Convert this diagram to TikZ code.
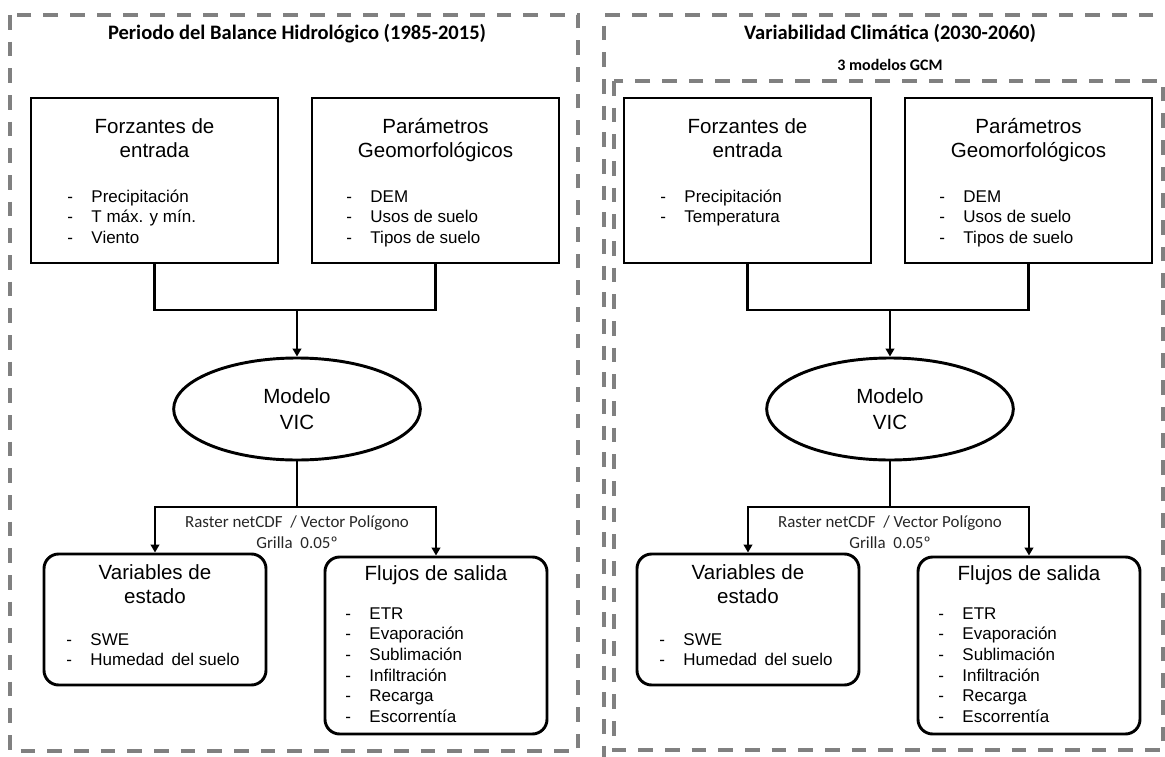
\documentclass[tikz,border=0pt]{standalone}
\usepackage{fontspec}
\setmainfont{Liberation Sans}
\newfontfamily\calib{Carlito}
\usetikzlibrary{shapes.geometric,arrows.meta}

\definecolor{framegray}{HTML}{808080}
% list entry: a dash, then the entry text at a fixed indent
\newcommand{\dashitem}[1]{\makebox[18pt][l]{-}#1}

% one complete VIC workflow column; #1 name prefix, #2 horizontal offset, #3 forcing list
\newcommand{\vicpanel}[3]{%
\begin{scope}[shift={(#2,0)}]
  % input boxes
  \node[inbox] (#1in) at (154.5,180.5) {};
  \node[inbox] (#1geo) at (435.5,180.5) {};
  \node[head] (#1inT) at (154.5,133) {\begin{tabular}[t]{@{}c@{}}Forzantes de\\entrada\end{tabular}};
  \node[head] (#1geoT) at (435.5,133) {\begin{tabular}[t]{@{}c@{}}Parámetros\\Geomorfológicos\end{tabular}};
  \node[list] (#1inL) at (67.2,202) {\begin{tabular}[t]{@{}l@{}}#3\end{tabular}};
  \node[list] (#1geoL) at (346.2,202) {\begin{tabular}[t]{@{}l@{}}\dashitem{DEM}\\\dashitem{Usos de suelo}\\\dashitem{Tipos de suelo}\end{tabular}};
  % model
  \node[vic] (#1vic) at (297,409) {Modelo\\VIC};
  \coordinate (#1j) at (297,310);
  \draw[link] (#1in.south) |- (#1j) -| (#1geo.south);
  \draw[arr] (#1j) -- (#1vic.north);
  % outputs
  \node[outbox, minimum height=98.25pt] (#1st) at (155,619.5) {};
  \node[outbox, minimum height=132.75pt] (#1fl) at (436,645.5) {};
  \coordinate (#1s) at (297,507);
  \draw[link] (#1vic.south) -- (#1s);
  \draw[arr] (#1s) -| (#1st.north);
  \draw[arr] (#1s) -| (#1fl.north);
  \node[note] (#1fmt) at (297,527.5) {\begin{tabular}[t]{@{}c@{}}Raster netCDF \ / Vector Polígono\\Grilla\hspace{3pt} 0.05º\end{tabular}};
  \node[head] (#1stT) at (155,579) {\begin{tabular}[t]{@{}c@{}}Variables de\\estado\end{tabular}};
  \node[head] (#1flT) at (436,580) {Flujos de salida};
  \node[list] (#1stL) at (66.2,645) {\begin{tabular}[t]{@{}l@{}}\dashitem{SWE}\\\dashitem{Humedad\hspace{2pt} del suelo}\end{tabular}};
  \node[list] (#1flL) at (345.2,619) {\begin{tabular}[t]{@{}l@{}}\dashitem{ETR}\\\dashitem{Evaporación}\\\dashitem{Sublimación}\\\dashitem{Infiltración}\\\dashitem{Recarga}\\\dashitem{Escorrentía}\end{tabular}};
\end{scope}}

\begin{document}
\begin{tikzpicture}[x=0.75pt,y=-0.75pt,
  frame/.style={draw=framegray, line width=2.4pt, dash pattern=on 11pt off 9pt},
  inbox/.style={draw, line width=2.2pt, minimum width=185.25pt, minimum height=123.75pt, inner sep=0},
  outbox/.style={draw, line width=2.2pt, rounded corners=11pt, minimum width=166.5pt, inner sep=0},
  vic/.style={draw, ellipse, line width=2.2pt, minimum width=185pt, minimum height=76.5pt, inner sep=0,
    align=center, font=\fontsize{15.4pt}{19.5pt}\selectfont},
  link/.style={line width=2.2pt},
  arr/.style={line width=2.2pt, -{Triangle[width=6.5pt,length=6pt]}},
  head/.style={inner sep=0, anchor=base, font=\fontsize{15.4pt}{18pt}\selectfont},
  list/.style={inner sep=0, anchor=base west, font=\fontsize{12.75pt}{15.5pt}\selectfont},
  note/.style={inner sep=0, anchor=base, text=black!85, font=\calib\fontsize{12.7pt}{15.75pt}\selectfont},
  title/.style={inner sep=0, anchor=base, font=\calib\bfseries\fontsize{15.4pt}{18pt}\selectfont},
  subtitle/.style={inner sep=0, anchor=base, font=\calib\bfseries\fontsize{12pt}{14pt}\selectfont}]
\useasboundingbox (0,0) rectangle (1165,757);
\clip (0,0) rectangle (1165,757);

% dashed group frames
\draw[frame] (10,15) rectangle (578,751);
\draw[frame] (1180,15) -| (604,770);
\draw[frame] (614,81) rectangle (1163,750);

\node[title] (histT) at (297,39.5) {Periodo del Balance Hidrológico (1985-2015)};
\node[title] (futT) at (890,39.5) {Variabilidad Climática (2030-2060)};
\node[subtitle] (gcm) at (890,70) {3 modelos GCM};

\vicpanel{h}{0}{\dashitem{Precipitación}\\\dashitem{T máx. y mín.}\\\dashitem{Viento}}
\vicpanel{f}{593}{\dashitem{Precipitación}\\\dashitem{Temperatura}}
\end{tikzpicture}
\end{document}
